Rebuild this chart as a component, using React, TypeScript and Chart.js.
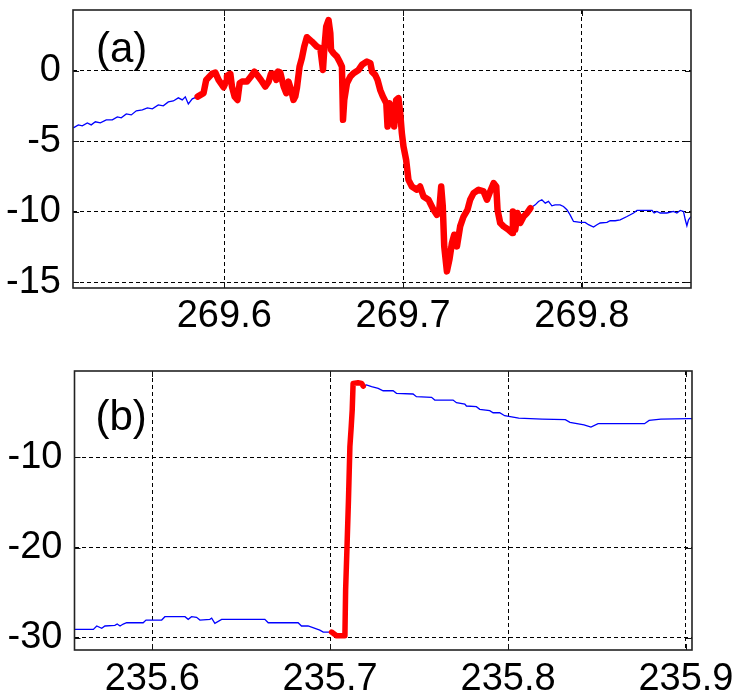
import React, { useEffect, useRef } from "react";
import { Chart, registerables } from "chart.js";

Chart.register(...registerables);

// ---------- Panel (a) ----------
const aXTicks = [269.6, 269.7, 269.8];
const aYTicks = [-15, -10, -5, 0];
const aXRange = [269.5154, 269.861];
const aYRange = [-15.4, 4.32];

const aBlueLeftX = [269.5156, 269.5184, 269.5206, 269.5234, 269.5256, 269.5279, 269.5307, 269.534, 269.5374, 269.5402, 269.5424, 269.5452, 269.548, 269.5508, 269.5542, 269.557, 269.5598, 269.5631, 269.5659, 269.5687, 269.5715, 269.5743, 269.5765, 269.5782, 269.5799, 269.5821, 269.5851];
const aBlueLeftY = [-4.04, -3.83, -3.9, -3.69, -3.83, -3.61, -3.69, -3.47, -3.47, -3.26, -3.33, -3.05, -3.12, -2.83, -2.76, -2.62, -2.69, -2.41, -2.48, -2.2, -2.13, -1.91, -2.06, -1.84, -2.34, -1.98, -1.82];

const aRedX = [269.5851, 269.5884, 269.5899, 269.5931, 269.595, 269.5968, 269.5996, 269.601, 269.6015, 269.6034,
  269.6043, 269.6058, 269.6074, 269.6086, 269.6099, 269.6127, 269.6149, 269.6168, 269.6183, 269.6205,
  269.6229, 269.6248, 269.6261, 269.628, 269.6291, 269.63, 269.6313, 269.6332, 269.6347, 269.6359,
  269.6374, 269.6387, 269.6397, 269.6406, 269.6421, 269.6434, 269.6447, 269.6462, 269.649, 269.6518,
  269.6537, 269.6552, 269.6559, 269.657, 269.6583, 269.6593, 269.6597, 269.6611, 269.663, 269.6645,
  269.6658, 269.6664, 269.6671, 269.6686, 269.6705, 269.6723, 269.6751, 269.677, 269.6798, 269.6817,
  269.6826, 269.6844, 269.6857, 269.6872, 269.6887, 269.6906, 269.6913, 269.6924, 269.6937, 269.695,
  269.6961, 269.6974, 269.6984, 269.6993, 269.7002, 269.7017, 269.703, 269.7049, 269.7077, 269.7095,
  269.7114, 269.7142, 269.717, 269.7189, 269.7203, 269.7213, 269.7222, 269.723, 269.7245, 269.7259,
  269.7273, 269.7286, 269.7301, 269.7319, 269.7338, 269.736, 269.7375, 269.7394, 269.7422, 269.745,
  269.7469, 269.7487, 269.7506, 269.7521, 269.7528, 269.7543, 269.7562, 269.759, 269.7609, 269.7614,
  269.7627, 269.764, 269.7655, 269.7674, 269.7693, 269.7712];
const aRedY = [-1.82, -1.58, -0.64, -0.21, -0.12, -0.64, -1.16, -0.76, -0.35, -0.21,
  -1.11, -1.82, -2.06, -0.87, -0.76, -0.76, -0.4, -0.05, -0.28, -0.64,
  -1.11, -0.76, -0.21, -0.21, -0.64, -0.05, -0.12, -1.11, -1.58, -0.76,
  -1.35, -2.06, -1.82, -1.23, 0.3, 0.9, 1.72, 2.39, 2.08, 1.72,
  1.61, 0.07, 1.49, 3.14, 3.61, 2.67, 1.49, 1.25, 1.01, 0.66,
  0.3, -3.47, -2.06, -0.87, -0.4, -0.16, 0.07, 0.43, 0.66, 0.55,
  -0.05, -0.28, -0.64, -1.35, -1.82, -2.29, -3.95, -2.29, -3.0, -3.95,
  -2.06, -1.93, -3.0, -4.42, -5.36, -6.31, -7.73, -8.2, -8.43, -8.2,
  -8.91, -9.14, -9.85, -10.21, -9.73, -8.2, -9.62, -12.45, -14.22, -13.39,
  -12.21, -11.62, -12.45, -11.03, -10.33, -9.85, -9.14, -8.67, -8.43, -8.55,
  -9.14, -8.55, -7.96, -8.2, -9.85, -10.79, -11.03, -11.27, -11.5, -9.97,
  -11.27, -10.08, -10.79, -10.33, -10.08, -9.73];

const aBlueRightX = [269.7712, 269.7739, 269.7757, 269.7776, 269.7795, 269.7813, 269.7832, 269.785, 269.7878, 269.7897,
  269.7916, 269.7934, 269.7953, 269.7991, 269.8018, 269.8037, 269.8065, 269.8084, 269.8102, 269.814,
  269.8158, 269.8186, 269.8214, 269.8252, 269.8289, 269.8308, 269.8364, 269.8392, 269.8404, 269.8419,
  269.8438, 269.8475, 269.8512, 269.8531, 269.855, 269.8568, 269.8578, 269.8587, 269.8596, 269.861];
const aBlueRightY = [-9.73, -9.5, -9.26, -9.14, -9.38, -9.26, -9.57, -9.5, -9.5, -9.62,
  -9.85, -10.21, -10.68, -10.75, -10.75, -10.91, -11.08, -10.91, -10.79, -10.75,
  -10.63, -10.63, -10.56, -10.33, -10.08, -9.9, -9.9, -9.9, -10.08, -9.97,
  -10.08, -10.08, -9.97, -10.08, -9.9, -9.97, -10.56, -10.98, -10.56, -10.33];

// ---------- Panel (b) ----------
const bXTicks = [235.6, 235.7, 235.8, 235.9];
const bYTicks = [-30, -20, -10];
const bXRange = [235.5563, 235.9034];
const bYRange = [-31.36, -0.43];

const bBlueLeftX = [235.5566, 235.5669, 235.5688, 235.5716, 235.5734, 235.579, 235.5803, 235.5819, 235.5837, 235.5856,
  235.5949, 235.5965, 235.6053, 235.6071, 235.6184, 235.6202, 235.6221, 235.6249, 235.6268, 235.6324,
  235.6334, 235.6352, 235.639, 235.6633, 235.6652, 235.682, 235.6839, 235.6876, 235.6942, 235.6961, 235.7008];
const bBlueLeftY = [-29.07, -29.07, -28.7, -28.96, -28.7, -28.63, -28.48, -28.7, -28.48, -28.34,
  -28.34, -28.04, -28.04, -27.67, -27.67, -27.96, -27.67, -27.74, -28.04, -27.96,
  -27.82, -28.4, -27.96, -27.96, -28.34, -28.34, -28.7, -28.7, -29.15, -29.37, -29.37];

const bRedX = [235.7008, 235.7036, 235.7083, 235.7087, 235.7096, 235.7103, 235.7111, 235.7118, 235.7124, 235.7129, 235.7157, 235.7177, 235.7186];
const bRedY = [-29.37, -29.78, -29.78, -24.71, -19.17, -14.73, -8.82, -6.75, -4.76, -1.8, -1.73, -1.8, -2.1];

const bBlueRightX = [235.7186, 235.7204, 235.7233, 235.727, 235.7298, 235.7354, 235.7373, 235.7466, 235.7485, 235.757,
  235.7588, 235.7691, 235.771, 235.7757, 235.7766, 235.7822, 235.7841, 235.7897, 235.7916, 235.7953,
  235.7981, 235.806, 235.8191, 235.8322, 235.8348, 235.8427, 235.8466, 235.8506, 235.8767, 235.8793,
  235.8859, 235.9016, 235.9034];
const bBlueRightY = [-2.1, -1.98, -2.17, -2.35, -2.62, -2.62, -2.9, -2.98, -3.28, -3.35,
  -3.65, -3.65, -3.95, -4.09, -4.31, -4.39, -4.68, -4.83, -5.06, -5.06,
  -5.39, -5.65, -5.76, -5.83, -6.13, -6.39, -6.64, -6.27, -6.27, -5.91,
  -5.76, -5.72, -5.72];

const FONT = '"Liberation Sans", Arial, sans-serif';

const zip = (xs: number[], ys: number[]) => xs.map((x, i) => ({ x, y: ys[i] }));

const framePlugin = {
  id: "frame",
  afterDraw(chart: any, _args: any, opts: any) {
    const { ctx, chartArea: a, scales } = chart;
    ctx.save();
    ctx.strokeStyle = "#111";
    ctx.lineWidth = 1;
    const seg = (x1: number, y1: number, x2: number, y2: number) => {
      ctx.beginPath();
      ctx.moveTo(x1, y1);
      ctx.lineTo(x2, y2);
      ctx.stroke();
    };
    const tl = 6;
    scales.x.ticks.forEach((t: any) => {
      const p = Math.round(scales.x.getPixelForValue(t.value)) + 0.5;
      seg(p, a.bottom, p, a.bottom - tl);
      seg(p, a.top, p, a.top + tl);
    });
    scales.y.ticks.forEach((t: any) => {
      const p = Math.round(scales.y.getPixelForValue(t.value)) + 0.5;
      seg(a.left, p, a.left + tl, p);
      seg(a.right, p, a.right - tl, p);
    });
    ctx.strokeStyle = "#222";
    ctx.lineWidth = 1.6;
    ctx.strokeRect(a.left, a.top, a.right - a.left, a.bottom - a.top);
    ctx.fillStyle = "#000";
    ctx.font = `42px ${FONT}`;
    ctx.textAlign = "left";
    ctx.textBaseline = "middle";
    ctx.fillText(opts.text, a.left + opts.dx, a.top + opts.dy);
    ctx.restore();
  },
};

function makeConfig(p: {
  xRange: number[]; yRange: number[]; xTicks: number[]; yTicks: number[];
  blueL: { x: number; y: number }[]; red: { x: number; y: number }[]; blueR: { x: number; y: number }[];
  padTop: number; padRight: number; yWidth: number; xHeight: number; xPad: number;
  label: string; dx: number; dy: number; redWidth: number;
}): any {
  return {
    type: "line",
    data: {
      datasets: [
        { data: p.red, borderColor: "#ff0000", borderWidth: p.redWidth, pointRadius: 0, tension: 0, borderJoinStyle: "round", borderCapStyle: "round", fill: false },
        { data: p.blueL, borderColor: "#0000ff", borderWidth: 1.3, pointRadius: 0, tension: 0, fill: false },
        { data: p.blueR, borderColor: "#0000ff", borderWidth: 1.3, pointRadius: 0, tension: 0, fill: false },
      ],
    },
    options: {
      animation: false,
      responsive: false,
      maintainAspectRatio: false,
      events: [],
      layout: { padding: { top: p.padTop, right: p.padRight, left: 0, bottom: 0 } },
      plugins: {
        legend: { display: false },
        tooltip: { enabled: false },
        frame: { text: p.label, dx: p.dx, dy: p.dy },
      },
      scales: {
        x: {
          type: "linear",
          min: p.xRange[0],
          max: p.xRange[1],
          afterBuildTicks: (s: any) => { s.ticks = p.xTicks.map((v) => ({ value: v })); },
          afterFit: (s: any) => { s.height = p.xHeight; s.paddingLeft = 0; s.paddingRight = 0; s.paddingTop = 0; s.paddingBottom = 0; },
          ticks: {
            font: { family: FONT, size: 38 },
            color: "#000",
            padding: p.xPad,
            maxRotation: 0,
            autoSkip: false,
            callback: (v: any) => Number(v).toFixed(1),
          },
          grid: { color: "#000", lineWidth: 1, drawTicks: false },
          border: { display: false, dash: [4, 3] },
        },
        y: {
          type: "linear",
          min: p.yRange[0],
          max: p.yRange[1],
          afterBuildTicks: (s: any) => { s.ticks = p.yTicks.map((v) => ({ value: v })); },
          afterFit: (s: any) => { s.width = p.yWidth; s.paddingTop = 0; s.paddingBottom = 0; s.paddingLeft = 0; s.paddingRight = 0; },
          ticks: {
            font: { family: FONT, size: 38 },
            color: "#000",
            padding: 12,
            autoSkip: false,
            callback: (v: any) => String(v),
          },
          grid: { color: "#000", lineWidth: 1, drawTicks: false },
          border: { display: false, dash: [4, 3] },
        },
      },
    },
    plugins: [framePlugin],
  };
}

export default function App() {
  const refA = useRef<HTMLCanvasElement>(null);
  const refB = useRef<HTMLCanvasElement>(null);

  useEffect(() => {
    const ca = new Chart(refA.current as HTMLCanvasElement, makeConfig({
      xRange: aXRange, yRange: aYRange, xTicks: aXTicks, yTicks: aYTicks,
      blueL: zip(aBlueLeftX, aBlueLeftY), red: zip(aRedX, aRedY), blueR: zip(aBlueRightX, aBlueRightY),
      padTop: 10, padRight: 45, yWidth: 73, xHeight: 57, xPad: 6,
      label: "(a)", dx: 23, dy: 40, redWidth: 6.5,
    }));
    const cb = new Chart(refB.current as HTMLCanvasElement, makeConfig({
      xRange: bXRange, yRange: bYRange, xTicks: bXTicks, yTicks: bYTicks,
      blueL: zip(bBlueLeftX, bBlueLeftY), red: zip(bRedX, bRedY), blueR: zip(bBlueRightX, bBlueRightY),
      padTop: 26, padRight: 44, yWidth: 74.5, xHeight: 46, xPad: 7,
      label: "(b)", dx: 21, dy: 47, redWidth: 5.5,
    }));
    return () => { ca.destroy(); cb.destroy(); };
  }, []);

  return (
    <div style={{ position: "absolute", left: 0, top: 0, width: 736, height: 696, background: "#fff" }}>
      <canvas ref={refA} width={736} height={345} style={{ position: "absolute", left: 0, top: 0, width: 736, height: 345 }} />
      <canvas ref={refB} width={736} height={351} style={{ position: "absolute", left: 0, top: 345, width: 736, height: 351 }} />
    </div>
  );
}
